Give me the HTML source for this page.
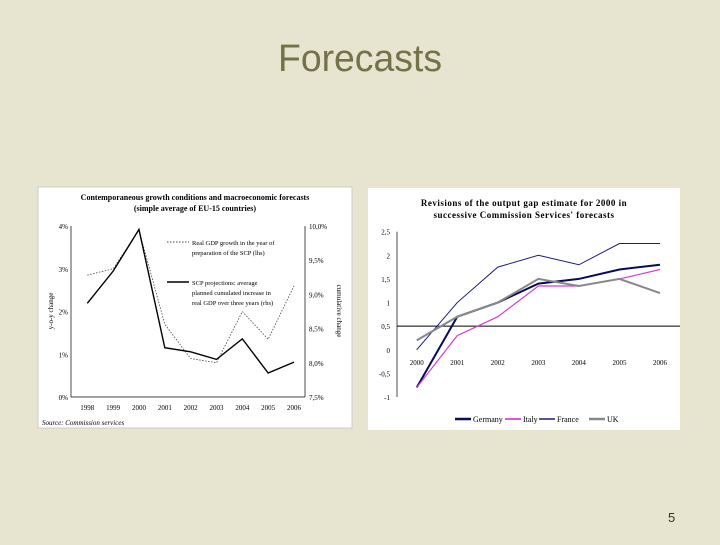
<!DOCTYPE html>
<html><head><meta charset="utf-8"><style>
body{margin:0;width:720px;height:540px;background:#e7e4d0;overflow:hidden;font-family:"Liberation Serif",serif}
</style></head><body>
<svg width="720" height="540" xmlns="http://www.w3.org/2000/svg">
<text x="278" y="71" font-family="Liberation Sans, sans-serif" font-size="38" fill="#75724a" textLength="164" lengthAdjust="spacingAndGlyphs">Forecasts</text>
<text x="668" y="522" font-family="Liberation Sans, sans-serif" font-size="13" fill="#333">5</text>

<g id="left">
<rect x="38" y="187" width="314" height="241" fill="#fff" stroke="#ccc"/>
<text x="195" y="200" font-size="8" font-weight="bold" text-anchor="middle">Contemporaneous growth conditions and macroeconomic forecasts</text>
<text x="195" y="211" font-size="8" font-weight="bold" text-anchor="middle">(simple average of EU-15 countries)</text>
<g id="lg"></g>
<text x="42" y="425" font-size="7" font-style="italic">Source:  Commission services</text>
</g>

<g id="right">
<rect x="368" y="188" width="312" height="242" fill="#fff"/>
<text x="524" y="206" font-size="9" font-weight="bold" text-anchor="middle" letter-spacing="0.5">Revisions of the output gap estimate for 2000 in</text>
<text x="524" y="218" font-size="9" font-weight="bold" text-anchor="middle" letter-spacing="0.5">successive Commission Services' forecasts</text>
<g id="rg"></g>
</g>
</svg>
<script>
const NS='http://www.w3.org/2000/svg';
function mk(p,t,a){const e=document.createElementNS(NS,t);for(const k in a)e.setAttribute(k,a[k]);p.appendChild(e);return e;}
// Left chart data
const years=['1998','1999','2000','2001','2002','2003','2004','2005','2006'];
const gdpGrowth=[2.85,3.0,3.9,1.7,0.9,0.8,2.0,1.35,2.6];
const scpProj=[8.87,9.34,9.95,8.22,8.16,8.05,8.35,7.85,8.01];
const lhsTicks=['0%','1%','2%','3%','4%'];
const rhsTicks=['7,5%','8,0%','8,5%','9,0%','9,5%','10,0%'];
// Right chart data
const rYears=['2000','2001','2002','2003','2004','2005','2006'];
const germany=[-0.8,0.7,1.0,1.4,1.5,1.7,1.8];
const italy=[-0.8,0.3,0.7,1.35,1.35,1.5,1.7];
const france=[0,1.0,1.75,2.0,1.8,2.25,2.25];
const uk=[0.2,0.7,1.0,1.5,1.35,1.5,1.2];
const rTicks=['-1','-0,5','0','0,5','1','1,5','2','2,5'];

(function(){
const g=document.getElementById('lg');
const x0=71,x1=305,yT=226,yB=397;
const xs=i=>87.3+i*(294-87.3)/(years.length-1);
const yl=v=>yB-(v/4)*(yB-yT);
const yr=v=>yB-((v-7.5)/2.5)*(yB-yT);
let a=mk(g,'line',{x1:x0,y1:yT,x2:x0,y2:yB,stroke:'#000','stroke-width':0.7});

a=mk(g,'line',{x1:x1,y1:yT,x2:x1,y2:yB,stroke:'#000','stroke-width':0.7});

a=mk(g,'line',{x1:x0,y1:yB,x2:x1,y2:yB,stroke:'#000','stroke-width':0.7});

lhsTicks.forEach((t,i)=>{const e=mk(g,'text',{x:68,y:yl(i)+3,'font-size':7,'text-anchor':'end'});e.textContent=t;
});
rhsTicks.forEach((t,i)=>{const e=mk(g,'text',{x:309,y:yr(7.5+i*0.5)+3,'font-size':7});e.textContent=t;
});
years.forEach((t,i)=>{const e=mk(g,'text',{x:xs(i),y:410,'font-size':7,'text-anchor':'middle'});e.textContent=t;
});
let e=mk(g,'text',{x:0,y:0,'font-size':7,transform:'translate(53,311) rotate(-90)','text-anchor':'middle'});e.textContent='y-o-y change';

e=mk(g,'text',{x:0,y:0,'font-size':7,transform:'translate(337,311) rotate(90)','text-anchor':'middle'});e.textContent='cumulative change';

e=mk(g,'polyline',{points:gdpGrowth.map((v,i)=>xs(i)+','+yl(v)).join(' '),fill:'none',stroke:'#444','stroke-width':0.8,'stroke-dasharray':'1.5,1.5'});

e=mk(g,'polyline',{points:scpProj.map((v,i)=>xs(i)+','+yr(v)).join(' '),fill:'none',stroke:'#000','stroke-width':1.4});

e=mk(g,'line',{x1:167,y1:242,x2:189,y2:242,stroke:'#444','stroke-dasharray':'1.5,1.5'});

e=mk(g,'line',{x1:167,y1:282,x2:189,y2:282,stroke:'#000','stroke-width':1.4});

[['Real GDP growth in the year of',243],['preparation of the SCP (lhs)',253],['SCP projections: average',283],['planned cumulated increase in',293],['real GDP over three years (rhs)',303]].forEach(([t,y])=>{
const el=mk(g,'text',{x:192,y:y+2,'font-size':6.5});el.textContent=t;
});
})();

(function(){
const g=document.getElementById('rg');
const x0=397,yT=231.7,yB=397;
const xs=i=>416.7+i*(660-416.7)/(rYears.length-1);
const y=v=>yB-((v+1)/3.5)*(yB-yT);
let e=mk(g,'line',{x1:x0,y1:yT,x2:x0,y2:yB,stroke:'#000','stroke-width':0.7});

e=mk(g,'line',{x1:x0,y1:y(0.5),x2:680,y2:y(0.5),stroke:'#000','stroke-width':1});

rTicks.forEach((t,i)=>{const el=mk(g,'text',{x:390,y:y(-1+i*0.5)+3,'font-size':7,'text-anchor':'end'});el.textContent=t;
});
rYears.forEach((t,i)=>{const el=mk(g,'text',{x:xs(i),y:365,'font-size':7,'text-anchor':'middle'});el.textContent=t;
});
const series=[['germany',germany,'#0a0a5a',2],['italy',italy,'#d040d0',1.2],['france',france,'#1a1a80',1],['uk',uk,'#888',2]];
series.forEach(([n,d,c,w])=>{const el=mk(g,'polyline',{points:d.map((v,i)=>xs(i)+','+y(v)).join(' '),fill:'none',stroke:c,'stroke-width':w});
});
const lab=['Germany','Italy','France','UK'];let lx=455;
series.forEach(([n,d,c,w],i)=>{const s=mk(g,'line',{x1:lx,y1:419,x2:lx+16,y2:419,stroke:c,'stroke-width':w+0.5});

const t=mk(g,'text',{x:lx+18,y:422,'font-size':8});t.textContent=lab[i];

lx+=[50,34,50,0][i];});
})();
</script>
</body></html>
